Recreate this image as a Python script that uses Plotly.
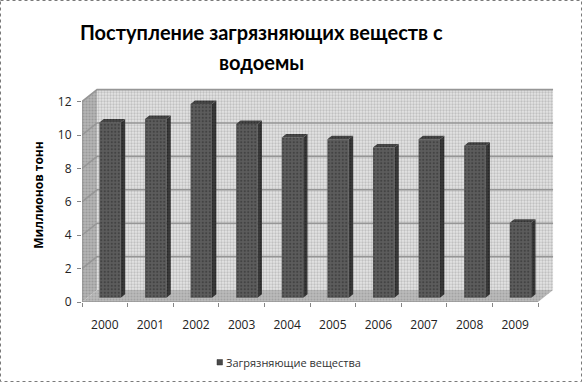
import plotly.graph_objects as go

# ---- data ----
years = ["2000", "2001", "2002", "2003", "2004", "2005", "2006", "2007", "2008", "2009"]
values = [10.5, 10.7, 11.6, 10.4, 9.6, 9.5, 9.0, 9.5, 9.1, 4.5]
y_ticks = [0, 2, 4, 6, 8, 10, 12]
series_name = "Загрязняющие вещества"
title_lines = ["Поступление загрязняющих веществ с", "водоемы"]
y_title = "Миллионов тонн"

# ---- pseudo-3D geometry (in axis units) ----
DX, DY = 0.33, 0.72          # full depth offset of the back wall
FF, FB = 0.35, 0.64          # bar front / back depth fractions
W = 0.47                     # bar width (category units)
YMAX = 12

W_PX, H_PX = 583, 382
L, R, T, B = 82, 28, 88, 80
pw, ph = W_PX - L - R, H_PX - T - B
n = len(years)
xr_max = -0.5 + pw / 45.6
yr_max = ph / 16.7

def px(xp):
    return (xp - L) / pw

def py(yp):
    return (H_PX - B - yp) / ph

fig = go.Figure()

def poly(xs, ys, color, pattern=None, axes=("x", "y")):
    fig.add_trace(go.Scatter(
        x=xs + [xs[0]], y=ys + [ys[0]], mode="lines", fill="toself",
        fillcolor=color, line=dict(color=color, width=0),
        fillpattern=pattern, showlegend=False, hoverinfo="skip",
        xaxis=axes[0], yaxis=axes[1]))

x0, x1 = -0.5, n - 0.5
# back wall
poly([x0 + DX, x1 + DX, x1 + DX, x0 + DX], [DY, DY, YMAX + DY, YMAX + DY], "#dedede",
     pattern=dict(shape=".", bgcolor="#e4e4e4", fgcolor="#9c9c9c", size=3, solidity=0.45))
# left side wall
poly([x0, x0 + DX, x0 + DX, x0], [0, DY, YMAX + DY, YMAX], "#a8a8a8",
     pattern=dict(shape=".", bgcolor="#b4b4b4", fgcolor="#808080", size=3, solidity=0.4))
# floor
poly([x0, x1, x1 + DX, x0 + DX], [0, 0, DY, DY], "#b0b0b0",
     pattern=dict(shape=".", bgcolor="#bcbcbc", fgcolor="#8a8a8a", size=3, solidity=0.4))

# gridlines on left wall and back wall
for v in y_ticks[1:]:
    fig.add_trace(go.Scatter(x=[x0, x0 + DX, x1 + DX], y=[v, v + DY, v + DY], mode="lines",
                             line=dict(color="#969696", width=1.6), showlegend=False, hoverinfo="skip"))

# front axis lines
fig.add_trace(go.Scatter(x=[x0, x0, x1], y=[YMAX, 0, 0], mode="lines",
                         line=dict(color="#868686", width=1), showlegend=False, hoverinfo="skip"))

# bars (drawn on an overlaying subplot so they sit above the walls)
xc = [i + FF * DX for i in range(n)]
fig.add_trace(go.Bar(
    x=xc, y=values, base=FF * DY, width=W, name=series_name,
    marker=dict(color="#595959", line=dict(width=0),
                pattern=dict(shape=".", bgcolor="#5c5c5c", fgcolor="#2a2a2a", size=3.5, solidity=0.3)),
    hoverinfo="skip", showlegend=False, xaxis="x2", yaxis="y2"))

d = FB - FF
for i, v in enumerate(values):
    xl = xc[i] - W / 2
    xr = xc[i] + W / 2
    b0 = FF * DY
    top = v + FF * DY
    poly([xr, xr + d * DX, xr + d * DX, xr], [b0, b0 + d * DY, top + d * DY, top], "#363636",
         pattern=dict(shape=".", bgcolor="#3a3a3a", fgcolor="#161616", size=3, solidity=0.3),
         axes=("x2", "y2"))
    poly([xl, xr, xr + d * DX, xl + d * DX], [top, top, top + d * DY, top + d * DY], "#444444",
         pattern=dict(shape=".", bgcolor="#484848", fgcolor="#1e1e1e", size=3, solidity=0.3),
         axes=("x2", "y2"))

font_main = "Open Sans"
font_title = "Lato"

annotations = [
    dict(text=title_lines[0], x=px(261.5), y=py(32), xref="paper", yref="paper",
         xanchor="center", yanchor="middle", showarrow=False,
         font=dict(family=font_title, size=20, color="black", weight="bold")),
    dict(text=title_lines[1], x=px(261.5), y=py(62), xref="paper", yref="paper",
         xanchor="center", yanchor="middle", showarrow=False,
         font=dict(family=font_title, size=20, color="black", weight="bold")),
    dict(text=series_name, x=px(223.5), y=py(362), xref="paper", yref="paper",
         xanchor="left", yanchor="middle", showarrow=False,
         font=dict(family=font_main, size=11, color="#333")),
]

fig.update_layout(
    width=W_PX, height=H_PX,
    margin=dict(l=L, r=R, t=T, b=B, autoexpand=False),
    paper_bgcolor="white", plot_bgcolor="rgba(0,0,0,0)",
    barmode="overlay",
    xaxis=dict(range=[-0.5, xr_max], tickmode="array", tickvals=list(range(n)), ticktext=years,
               ticks="", showgrid=False, zeroline=False, showline=False, ticklabelstandoff=14,
               automargin=False,
               tickfont=dict(family=font_main, size=12, color="#222"),
               minor=dict(tickmode="array", tickvals=[i - 0.5 for i in range(n + 1)],
                          ticks="outside", ticklen=4, tickcolor="#868686", showgrid=False),
               fixedrange=True),
    yaxis=dict(range=[0, yr_max], tickmode="array", tickvals=y_ticks,
               ticks="outside", ticklen=4, tickcolor="#868686", showgrid=False,
               zeroline=False, showline=False, ticklabelstandoff=3, automargin=False,
               tickfont=dict(family=font_main, size=12, color="#222"),
               title=dict(text=y_title, font=dict(family=font_main, size=12, color="black", weight="bold"),
                          standoff=11),
               fixedrange=True),
    xaxis2=dict(overlaying="x", matches="x", visible=False, fixedrange=True),
    yaxis2=dict(overlaying="y", matches="y", visible=False, fixedrange=True),
    showlegend=False,
    annotations=annotations,
    shapes=[dict(type="rect", xref="paper", yref="paper",
                 x0=px(0.5), x1=px(581.5), y0=py(0.5), y1=py(381.5),
                 line=dict(color="#7a7a7a", width=1, dash="dot"), layer="below"),
            dict(type="rect", xref="paper", yref="paper",
                 x0=px(217), x1=px(222.5), y0=py(365), y1=py(359.5),
                 fillcolor="#4a4a4a", line=dict(color="#333", width=0.5))],
)

fig.write_html("out.html", config={"displayModeBar": False},
               post_script="document.body.style.margin='0';")
